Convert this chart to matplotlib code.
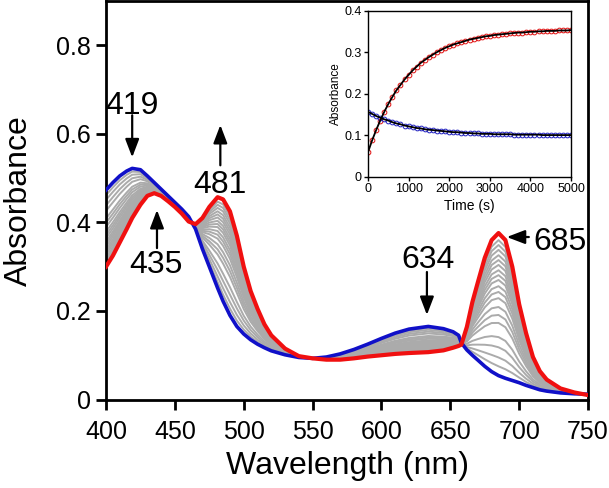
import numpy as np
import matplotlib
matplotlib.use('Agg')
import matplotlib.pyplot as plt

plt.rcParams['font.family'] = ['Liberation Sans', 'DejaVu Sans']

# ---- main spectra ----
wl = [400, 405, 410, 415, 419, 425, 430, 435, 440, 445, 450, 455, 460, 465,
      470, 475, 481, 485, 490, 495, 500, 505, 510, 515, 520, 530, 540, 550,
      560, 570, 580, 590, 600, 610, 620, 634, 645, 652, 656, 658, 662, 666,
      670, 675, 680, 685, 690, 695, 700, 705, 710, 715, 720, 730, 740, 750]

abs_start = [0.473, 0.490, 0.505, 0.516, 0.522, 0.519, 0.505, 0.490, 0.475, 0.460,
             0.445, 0.430, 0.413, 0.385, 0.340, 0.300, 0.252, 0.222, 0.190, 0.165,
             0.148, 0.135, 0.125, 0.117, 0.110, 0.101, 0.095, 0.093, 0.096, 0.103,
             0.113, 0.125, 0.138, 0.150, 0.159, 0.165, 0.160, 0.153, 0.145, 0.128,
             0.112, 0.100, 0.089, 0.075, 0.063, 0.054, 0.048, 0.043, 0.038, 0.032,
             0.027, 0.022, 0.019, 0.015, 0.013, 0.012]

abs_end = [0.300, 0.325, 0.355, 0.385, 0.410, 0.440, 0.460, 0.466, 0.460, 0.448,
           0.435, 0.420, 0.402, 0.396, 0.410, 0.435, 0.457, 0.452, 0.425, 0.370,
           0.300, 0.245, 0.205, 0.170, 0.145, 0.115, 0.098, 0.093, 0.090, 0.090,
           0.093, 0.097, 0.100, 0.103, 0.105, 0.107, 0.111, 0.117, 0.121, 0.124,
           0.164, 0.220, 0.265, 0.320, 0.360, 0.376, 0.360, 0.300, 0.215, 0.150,
           0.096, 0.064, 0.045, 0.025, 0.016, 0.010]

# absorbance of the intermediate (grey) spectra at 685 nm
gray_685 = [0.360, 0.349, 0.338, 0.326, 0.315, 0.304, 0.292, 0.281, 0.270, 0.256,
            0.243, 0.229, 0.209, 0.191, 0.173, 0.141, 0.118, 0.095, 0.075]

# ---- inset kinetics ----
time_s = list(range(0, 5001, 100))
kin_685 = [0.060, 0.088, 0.113, 0.136, 0.157, 0.176, 0.193, 0.209, 0.222, 0.235,
           0.246, 0.257, 0.266, 0.275, 0.282, 0.289, 0.295, 0.301, 0.306, 0.311,
           0.315, 0.319, 0.322, 0.325, 0.328, 0.331, 0.333, 0.335, 0.337, 0.339,
           0.340, 0.342, 0.343, 0.344, 0.345, 0.346, 0.347, 0.348, 0.348, 0.349,
           0.350, 0.350, 0.351, 0.351, 0.352, 0.352, 0.352, 0.353, 0.353, 0.353,
           0.354]
kin_634 = [0.157, 0.152, 0.147, 0.143, 0.139, 0.136, 0.132, 0.129, 0.127, 0.124,
           0.122, 0.120, 0.118, 0.117, 0.115, 0.114, 0.113, 0.112, 0.111, 0.110,
           0.109, 0.108, 0.108, 0.107, 0.106, 0.106, 0.105, 0.105, 0.104, 0.104,
           0.104, 0.103, 0.103, 0.103, 0.103, 0.103, 0.102, 0.102, 0.102, 0.102,
           0.102, 0.102, 0.102, 0.101, 0.101, 0.101, 0.101, 0.101, 0.101, 0.101,
           0.101]

wl = np.array(wl)
a0 = np.array(abs_start)
a1 = np.array(abs_end)
i685 = list(wl).index(685)

fig = plt.figure(figsize=(6.09, 4.88), dpi=100)
ax = fig.add_axes([0.1741, 0.1813, 0.7915, 0.8166])

for g in gray_685:
    f = (g - a0[i685]) / (a1[i685] - a0[i685])
    ax.plot(wl, a0 + f * (a1 - a0), color='#ababab', lw=1.4, zorder=2)
ax.plot(wl, a0, color='#1010c8', lw=2.6, zorder=3)
ax.plot(wl, a1, color='#f01010', lw=3.0, zorder=4)

ax.set_xlim(400, 750)
ax.set_ylim(0, 0.9)
ax.set_xticks(range(400, 751, 50))
ax.set_yticks([0, 0.2, 0.4, 0.6, 0.8])
ax.set_yticklabels(['0', '0.2', '0.4', '0.6', '0.8'])
ax.tick_params(direction='out', length=7, width=2, labelsize=18, pad=4)
ax.tick_params(axis='x', pad=8)
for s in ax.spines.values():
    s.set_linewidth(2)
ax.set_xlabel('Wavelength (nm)', fontsize=23, labelpad=5)
ax.set_ylabel('Absorbance', fontsize=23, labelpad=16)

arrow = dict(arrowstyle='-|>,head_length=1.1,head_width=0.42', lw=1.6,
             color='k', shrinkA=0, shrinkB=0)
# (label, text x, text baseline y, arrow tail, arrow tip)
notes = [('419', 419, 0.645, (419, 0.642), (419, 0.547)),
         ('435', 436, 0.286, (437, 0.342), (437, 0.428)),
         ('481', 483, 0.466, (483, 0.529), (483, 0.620)),
         ('634', 634, 0.297, (633, 0.288), (633, 0.191))]
for lab, tx, ty, tail, tip in notes:
    ax.text(tx, ty, lab, fontsize=23, ha='center', va='baseline')
    ax.annotate('', xy=tip, xytext=tail, arrowprops=arrow)
ax.text(710, 0.337, '685', fontsize=23, ha='left', va='baseline')
ax.annotate('', xy=(691, 0.367), xytext=(707, 0.367), arrowprops=arrow)

# ---- inset ----
ins = fig.add_axes([0.6043, 0.6373, 0.3333, 0.3402])
ins.plot(time_s, kin_685, 'o', mfc='none', mec='#e01010', ms=3.4, mew=0.7)
ins.plot(time_s, kin_634, 'o', mfc='none', mec='#2020c0', ms=3.4, mew=0.7)
ins.plot(time_s, kin_685, color='k', lw=1.3)
ins.plot(time_s, kin_634, color='k', lw=1.3)
ins.set_xlim(0, 5000)
ins.set_ylim(0, 0.4)
ins.set_xticks(range(0, 5001, 1000))
ins.set_yticks([0, 0.1, 0.2, 0.3, 0.4])
ins.set_yticklabels(['0', '0.1', '0.2', '0.3', '0.4'])
ins.tick_params(direction='out', length=3, width=1, labelsize=9, pad=1.5)
for s in ins.spines.values():
    s.set_linewidth(1)
ins.set_xlabel('Time (s)', fontsize=10, labelpad=3)
ins.set_ylabel('Absorbance', fontsize=8.5, labelpad=2)

fig.savefig('out.png', dpi=100)
